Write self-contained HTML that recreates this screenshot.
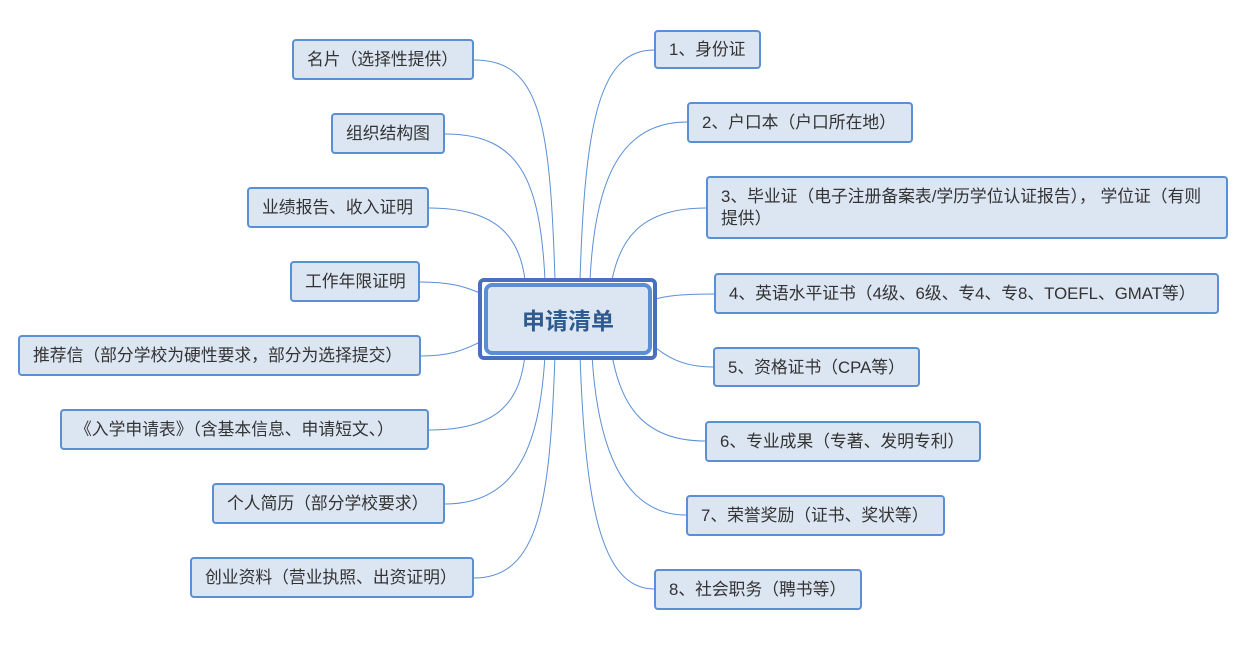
<!DOCTYPE html>
<html><head><meta charset="utf-8"><style>
body{margin:0;width:1256px;height:660px;background:#fff;position:relative;overflow:hidden;font-family:"Liberation Sans","Noto Sans CJK SC",sans-serif;}
.b{position:absolute;box-sizing:border-box;background:#dce5f2;border:2px solid #5b8fd4;border-radius:4px;color:#333;font-size:16.8px;line-height:22px;padding:1px 0 0 13px;display:flex;align-items:center;white-space:nowrap}
svg{position:absolute;left:0;top:0}
</style></head><body>
<svg width="1256" height="660" fill="none" stroke="#5b8fd4" stroke-width="1">
<path d="M474,60 C540,60 550,120 555,280"/>
<path d="M445,134 C520,134 540,180 545,280"/>
<path d="M429,208 C500,208 520,240 525,280"/>
<path d="M420,282 C460,282 470,290 486,295"/>
<path d="M421,356 C460,356 470,345 486,340"/>
<path d="M429,430 C500,430 520,400 525,355"/>
<path d="M445,504 C520,504 540,440 545,355"/>
<path d="M474,578 C540,578 550,500 555,355"/>
<path d="M654,50 C600,50 585,120 580,280"/>
<path d="M687,122 C620,122 595,180 590,280"/>
<path d="M706,208 C640,208 620,240 612,280"/>
<path d="M714,294 C680,294 665,296 652,300"/>
<path d="M713,367 C680,367 665,355 652,345"/>
<path d="M705,441 C640,441 620,400 612,355"/>
<path d="M686,515 C620,515 597,440 592,355"/>
<path d="M654,589 C600,589 585,500 580,355"/>
</svg>
<div style="position:absolute;left:478px;top:278px;width:179px;height:82px;box-sizing:border-box;border:4px solid #4a6fbf;border-radius:6px;background:#fff"></div>
<div style="position:absolute;left:484px;top:283px;width:168px;height:72px;box-sizing:border-box;border:4px solid #5b8fd4;border-radius:8px;background:#dce5f2;display:flex;align-items:center;justify-content:center;font-size:23px;font-weight:bold;color:#2f5a8f">申请清单</div>

<div class="b" style="left:292px;top:39px;width:182px;height:41px">名片（选择性提供）</div>
<div class="b" style="left:331px;top:113px;width:114px;height:41px">组织结构图</div>
<div class="b" style="left:247px;top:187px;width:182px;height:41px">业绩报告、收入证明</div>
<div class="b" style="left:290px;top:261px;width:130px;height:41px">工作年限证明</div>
<div class="b" style="left:18px;top:335px;width:403px;height:41px">推荐信（部分学校为硬性要求，部分为选择提交）</div>
<div class="b" style="left:60px;top:409px;width:369px;height:41px">《入学申请表》（含基本信息、申请短文、）</div>
<div class="b" style="left:212px;top:483px;width:233px;height:41px">个人简历（部分学校要求）</div>
<div class="b" style="left:190px;top:557px;width:284px;height:41px">创业资料（营业执照、出资证明）</div>

<div class="b" style="left:654px;top:30px;width:107px;height:39px">1、身份证</div>
<div class="b" style="left:687px;top:102px;width:226px;height:41px">2、户口本（户口所在地）</div>
<div class="b" style="left:706px;top:176px;width:522px;height:63px;white-space:normal;padding-right:10px">3、毕业证（电子注册备案表/学历学位认证报告），&nbsp;学位证（有则<br>提供）</div>
<div class="b" style="left:714px;top:273px;width:505px;height:41px">4、英语水平证书（4级、6级、专4、专8、TOEFL、GMAT等）</div>
<div class="b" style="left:713px;top:347px;width:207px;height:40px">5、资格证书（CPA等）</div>
<div class="b" style="left:705px;top:421px;width:276px;height:41px">6、专业成果（专著、发明专利）</div>
<div class="b" style="left:686px;top:495px;width:259px;height:41px">7、荣誉奖励（证书、奖状等）</div>
<div class="b" style="left:654px;top:569px;width:208px;height:41px">8、社会职务（聘书等）</div>
</body></html>
